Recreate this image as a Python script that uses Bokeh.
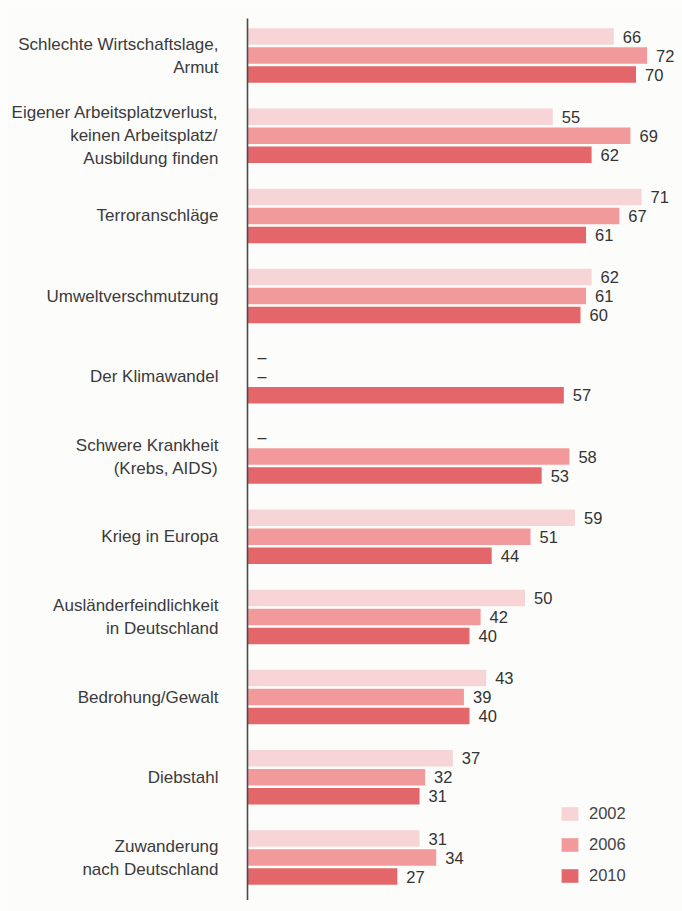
from bokeh.plotting import figure
from bokeh.models import Range1d, ColumnDataSource, Legend, LegendItem
from bokeh.core.properties import value
from bokeh.embed import file_html
from bokeh.resources import INLINE

categories = [
    "Schlechte Wirtschaftslage,\nArmut",
    "Eigener Arbeitsplatzverlust,\nkeinen Arbeitsplatz/\nAusbildung finden",
    "Terroranschläge",
    "Umweltverschmutzung",
    "Der Klimawandel",
    "Schwere Krankheit\n(Krebs, AIDS)",
    "Krieg in Europa",
    "Ausländerfeindlichkeit\nin Deutschland",
    "Bedrohung/Gewalt",
    "Diebstahl",
    "Zuwanderung\nnach Deutschland",
]
years = ["2002", "2006", "2010"]
v2002 = [66, 55, 71, 62, None, None, 59, 50, 43, 37, 31]
v2006 = [72, 69, 67, 61, None, 58, 51, 42, 39, 32, 34]
v2010 = [70, 62, 61, 60, 57, 53, 44, 40, 40, 31, 27]
series = [v2002, v2006, v2010]
colors = ["#f7d4d6", "#f29a9b", "#e3676a"]

W, H = 682, 911
px_per_unit = 5.55
zero_px = 247
group_pitch = 80.2
first_center = 55
bar_pitch = 19.0 / group_pitch
bar_h = 16.5 / group_pitch
line_pitch = 23.0 / group_pitch
n = len(categories)

p = figure(width=W, height=H, output_backend="svg", toolbar_location=None,
           x_axis_location=None, y_axis_location=None, min_border=0,
           x_range=Range1d(-zero_px / px_per_unit, (W - zero_px) / px_per_unit),
           y_range=Range1d((H - first_center) / group_pitch, -first_center / group_pitch))
p.outline_line_color = None
p.grid.visible = False
p.background_fill_color = "#fcfcfb"
p.border_fill_color = "#fcfcfb"

font = value("Liberation Sans")
items = []
for k, (yr, vals, col) in enumerate(zip(years, series, colors)):
    off = (k - 1) * bar_pitch
    ys = [i + off for i, v in enumerate(vals) if v is not None]
    xs = [v for v in vals if v is not None]
    src = ColumnDataSource(dict(y=ys, right=xs, lab=[str(v) for v in xs]))
    r = p.hbar(y="y", left=0, right="right", height=bar_h, fill_color=col,
               line_color=None, source=src)
    items.append(LegendItem(label=yr, renderers=[r]))
    p.text(x="right", y="y", text="lab", source=src, x_offset=9,
           text_align="left", text_baseline="middle", text_font=font,
           text_font_size="16.5px", text_color="#333333")
    miss_y = [i + off for i, v in enumerate(vals) if v is None]
    if miss_y:
        p.text(x=[0] * len(miss_y), y=miss_y, text=["–"] * len(miss_y),
               x_offset=10, text_align="left", text_baseline="middle",
               text_font=font, text_font_size="16px", text_color="#333333")

# category labels
lx, ly, lt = [], [], []
for i, c in enumerate(categories):
    lines = c.split("\n")
    m = len(lines)
    for j, ln in enumerate(lines):
        lx.append(0)
        ly.append(i + (j - (m - 1) / 2) * line_pitch)
        lt.append(ln)
p.text(x=lx, y=ly, text=lt, x_offset=-29, text_align="right",
       text_baseline="middle", text_font=font, text_font_size="17px",
       text_color="#3a3a3a")

# vertical axis line
p.segment(x0=[0], x1=[0], y0=[-0.46], y1=[n - 1 + 0.53],
          line_color="#4a4a4a", line_width=1.6)

legend = Legend(items=items, location=(559, 26), glyph_width=21,
                glyph_height=17, label_height=17, spacing=12, padding=0,
                margin=0, label_standoff=9, border_line_color=None,
                background_fill_alpha=0, label_text_font_size="16.5px",
                label_text_font="Liberation Sans", label_text_color="#444444")
p.add_layout(legend)

open("out.html", "w").write(file_html(p, INLINE))
